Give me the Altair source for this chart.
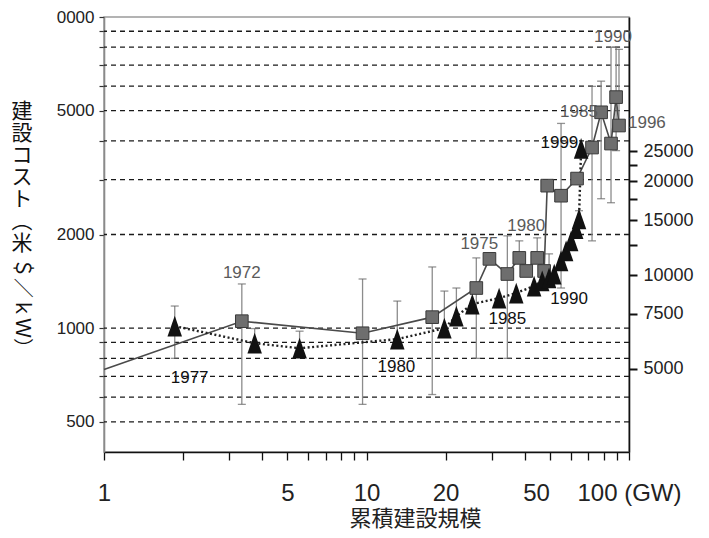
import altair as alt
import pandas as pd

# ---------------- data ----------------
# gray squares, solid line (first point only starts the line, no marker)
sq_x = [1.0, 3.35, 9.66, 17.8, 26.2, 29.4, 34.4, 38.2, 40.6, 44.7, 47.5, 48.8, 55.1, 63.4, 72.3, 78.3, 85.4, 89.3, 91.6]
sq_v = [737, 1053, 963, 1085, 1346, 1670, 1493, 1682, 1527, 1682, 1527, 2871, 2665, 3025, 3806, 4940, 3920, 5528, 4480]
sq_hi = [None, 1387, 1439, 1573, 1682, None, 1980, 1908, None, 1951, None, None, 4550, None, 5985, 6220, 8000, 8000, 7870]
sq_lo = [None, 569, 569, 612, 800, None, 800, None, None, None, None, None, 1346, None, 1908, 2606, 2530, 3720, None]
sq_mark = [False] + [True] * 18

# black triangles, dotted line
tr_x = [1.86, 3.75, 5.56, 13.1, 19.8, 22.0, 25.3, 32.0, 37.2, 43.5, 46.7, 49.6, 51.9, 55.1, 57.6, 60.2, 62.9, 64.5, 65.7]
tr_v = [1015, 895, 862, 922, 1000, 1093, 1195, 1249, 1297, 1366, 1418, 1450, 1493, 1645, 1772, 1909, 2087, 2246, 3780]
tr_hi = [1178, 997, 978, 1222, 1316, 1346, None, None, None, None, None, 1733, None, None, None, None, None, 2385, None]
tr_lo = [800] + [None] * 18

# year annotations
lab_text = ["1972", "1975", "1980", "1985", "1990", "1996", "1977", "1980", "1985", "1990", "1999"]
lab_x = [3.35, 26.9, 40.6, 64.5, 86.9, 117, 2.12, 13.0, 34.4, 59.1, 54.3]
lab_v = [1504, 1866, 2133, 4940, 8600, 4550, 690, 749, 1069, 1240, 3950]
lab_grp = ["sq"] * 6 + ["tr"] * 5

# axes
grid_vals = [500, 600, 700, 800, 900, 1000, 2000, 3000, 4000, 5000, 6000, 7000, 8000, 9000]
left_ticks = grid_vals + [10000]
x_ticks = [1, 2, 3, 4, 5, 6, 7, 8, 9, 10, 20, 30, 40, 50, 60, 70, 80, 90, 100]
right_ticks = [5000, 7500, 10000, 12500, 15000, 17500, 20000, 22500, 25000]
LEFT_DOMAIN = [400, 10000]
RIGHT_DOMAIN = [2700, 67500]

# ---------------- tables ----------------
sq_df = pd.DataFrame({"x": sq_x, "v": sq_v, "i": list(range(len(sq_x))), "m": sq_mark})
tr_df = pd.DataFrame({"x": tr_x, "v": tr_v, "i": list(range(len(tr_x)))})

err_rows = []
for xs, vs, hs, ls in [(sq_x, sq_v, sq_hi, sq_lo), (tr_x, tr_v, tr_hi, tr_lo)]:
    for x, v, h, l in zip(xs, vs, hs, ls):
        if h is None and l is None:
            continue
        err_rows.append({"x": x, "v": l if l is not None else v, "v2": h if h is not None else v})
err_df = pd.DataFrame(err_rows)

cap_rows = []
for xs, hs, ls in [(sq_x, sq_hi, sq_lo), (tr_x, tr_hi, tr_lo)]:
    for x, h, l in zip(xs, hs, ls):
        for c in (h, l):
            if c is not None:
                cap_rows.append({"x": x, "v": c})
cap_df = pd.DataFrame(cap_rows)

lab_df = pd.DataFrame({"t": lab_text, "x": lab_x, "v": lab_v, "g": lab_grp})
grid_df = pd.DataFrame({"v": grid_vals})

FONT = "Liberation Sans"
JP = "Noto Sans CJK JP"

x_axis = alt.Axis(
    values=x_ticks,
    labelExpr="datum.value==100 ? '100 (GW)' : ((datum.value==1||datum.value==5||datum.value==10||datum.value==20||datum.value==50) ? datum.label : '')",
    format="d", grid=False, domainColor="#111", domainWidth=1.6,
    tickColor="#111", tickSize=8, tickWidth=1.3,
    labelFont=FONT, labelFontSize=24, labelColor="#222", labelPadding=21,
    labelOffset={"condition": {"test": "datum.value==50", "value": -14}, "value": 0},
    labelOverlap=False, labelFlush=False,
    title="累積建設規模", titleFont=JP, titleFontSize=22, titleFontWeight="normal",
    titleColor="#222", titleX=311, titleY=56, titleAlign="center", titleBaseline="top",
)

y_axis = alt.Axis(
    values=left_ticks,
    labelExpr="datum.value==10000 ? '0000' : ((datum.value==500||datum.value==1000||datum.value==2000||datum.value==5000) ? datum.label : '')",
    format="d", grid=False,
    domainColor="#8a8a8a", domainWidth=1.6, tickColor="#333", tickSize=5, tickWidth=1.2,
    labelFont=FONT, labelFontSize=17, labelColor="#222", labelPadding=5,
    labelOverlap=False, labelFlush=False, title=None,
)

xs_ = alt.Scale(type="log", domain=[1, 100])
ys_ = alt.Scale(type="log", domain=LEFT_DOMAIN)
X = alt.X("x:Q", scale=xs_, axis=x_axis)
Y = alt.Y("v:Q", scale=ys_, axis=y_axis)

grid = alt.Chart(grid_df).mark_rule(color="#1a1a1a", strokeWidth=1.3, strokeDash=[5, 4]).encode(y=Y)
err = alt.Chart(err_df).mark_rule(color="#8c8c8c", strokeWidth=1.3).encode(x=X, y=Y, y2="v2:Q")
caps = alt.Chart(cap_df).mark_tick(orient="horizontal", size=8, thickness=1.3, color="#666").encode(x=X, y=Y)
sq_line = alt.Chart(sq_df).mark_line(color="#4a4a4a", strokeWidth=1.6).encode(x=X, y=Y, order="i:Q")
tr_line = alt.Chart(tr_df).mark_line(color="#222", strokeWidth=2.4, strokeDash=[2, 2.5]).encode(x=X, y=Y, order="i:Q")
sq_pts = alt.Chart(sq_df).transform_filter("datum.m").mark_point(
    shape="square", filled=True, size=160, color="#6e6e6e", stroke="#3a3a3a", strokeWidth=1, opacity=1
).encode(x=X, y=Y)
tr_pts = alt.Chart(tr_df).mark_point(
    shape="M0,-1L0.7,1L-0.7,1Z", filled=True, size=430, color="#111", opacity=1
).encode(x=X, y=Y)
labels = alt.Chart(lab_df).mark_text(font=FONT, fontSize=17, align="center", baseline="middle").encode(
    x=X, y=Y, text="t:N",
    color=alt.Color("g:N", scale=alt.Scale(domain=["sq", "tr"], range=["#5a5a5a", "#111111"]), legend=None),
)

one = pd.DataFrame({"a": [0]})
ytitle1 = alt.Chart(one).mark_text(
    font=JP, fontSize=21, lineHeight=22, align="center", baseline="top", color="#111"
).encode(x=alt.value(-82), y=alt.value(84), text=alt.value(["建", "設", "コ", "ス", "ト", "︵", "米"]))
ytitle2 = alt.Chart(one).mark_text(
    font=JP, fontSize=20, align="left", baseline="middle", angle=90, color="#111"
).encode(x=alt.value(-82), y=alt.value(241), text=alt.value("＄／ｋＷ）"))

left_layer = alt.layer(grid, err, caps, sq_line, tr_line, sq_pts, tr_pts, labels, ytitle1, ytitle2)

right_df = pd.DataFrame({"r": right_ticks})
right_layer = alt.Chart(right_df).mark_point(opacity=0).encode(
    y=alt.Y("r:Q", scale=alt.Scale(type="log", domain=RIGHT_DOMAIN), axis=alt.Axis(
        orient="right", values=right_ticks, format="d",
        labelExpr="(datum.value==12500||datum.value==17500||datum.value==22500) ? '' : datum.label",
        grid=False, domainColor="#111", domainWidth=1.6, tickColor="#111", tickSize=8, tickWidth=2,
        labelFont=FONT, labelFontSize=18, labelColor="#222", labelPadding=6,
        labelOverlap=False, labelFlush=False, title=None,
    ))
)

chart = alt.layer(left_layer, right_layer).resolve_scale(y="independent").properties(
    width=525, height=435,
    autosize=alt.AutoSizeParams(type="none"),
    padding={"left": 96, "top": 9, "right": 72, "bottom": 78},
    background="white",
).configure_view(stroke="#9a9a9a", strokeWidth=1.5)

chart.save("out.html", embed_options={"renderer": "svg", "actions": False})
